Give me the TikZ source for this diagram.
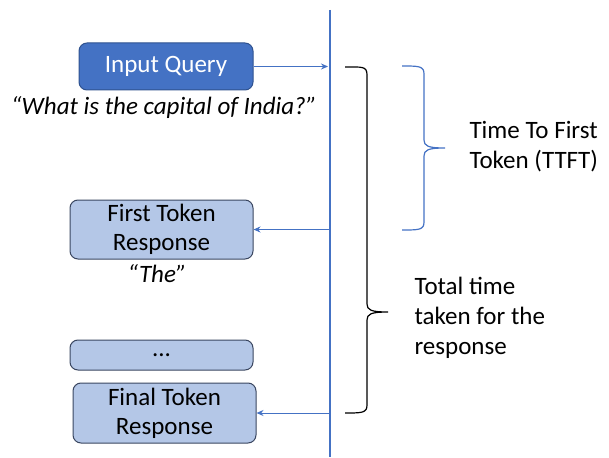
\documentclass[tikz,border=0pt]{standalone}
\usepackage{fontspec}
\setmainfont{Carlito}
\usetikzlibrary{arrows.meta}
\definecolor{qblue}{HTML}{4472C4}
\definecolor{qdark}{HTML}{2F528F}
\definecolor{rfill}{HTML}{B4C7E7}
\definecolor{rdraw}{HTML}{3A4660}
\tikzset{
    box/.style={draw=rdraw, fill=rfill, rounded corners=8pt, line width=1pt,
        align=center, inner sep=0pt, font=\fontsize{25}{29}\selectfont},
    flow/.style={qblue, line width=1pt, -{Stealth[length=7pt,width=6pt]}},
    say/.style={font=\fontsize{25}{30}\selectfont\itshape},
    note/.style={anchor=west, align=left, font=\fontsize{25}{30}\selectfont},
}
\begin{document}
\begin{tikzpicture}[x=1pt,y=-1pt]
    \useasboundingbox (0,0) rectangle (609,457);
    % time axis
    \coordinate (top) at (330,10);
    \coordinate (bot) at (330,457);
    \draw[qblue, line width=1.2pt] (top) -- (bot);
    \node[box, fill=qblue, draw=qdark, text=white, minimum width=174pt, minimum height=47pt] (query) at (166,66.5) {Input Query};
    \node[say] (quest) at (164,108) {“What is the capital of India?”};
    \node[box, minimum width=183pt, minimum height=59pt] (first) at (161.5,229.5) {First Token\\Response};
    \node[say] (the) at (157,274) {“The”};
    \node[box, minimum width=183pt, minimum height=30pt] (dots) at (161.5,355) {...};
    \node[box, minimum width=183pt, minimum height=60pt] (final) at (164.5,413) {Final Token\\Response};
    \coordinate (t0) at (query.east -| top);
    \coordinate (t1) at (first.east -| top);
    \coordinate (t2) at (final.east -| top);
    \draw[flow] (query) -- ([xshift=-2pt]t0);
    \draw[flow] (t1) -- (first);
    \draw[flow] (t2) -- (final);
    % braces
    \draw[line width=1.2pt] (345,67) .. controls (362,67) and (367,66) .. (367,75) -- (367,304)
        .. controls (367,310) and (371,312) .. (388,312)
        .. controls (371,312) and (367,314) .. (367,320) -- (367,405)
        .. controls (367,413) and (362,413) .. (345,413);
    \draw[qblue, line width=1.2pt] (402,66) .. controls (419,66) and (424,66) .. (424,74) -- (424,140)
        .. controls (424,146) and (428,148) .. (445,148)
        .. controls (428,148) and (424,150) .. (424,156) -- (424,222)
        .. controls (424,230) and (419,230) .. (402,230);
    \node[note] (ttft) at (466,147) {Time To First\\Token (TTFT)};
    \node[note] (total) at (411,318) {Total time\\taken for the\\response};
\end{tikzpicture}
\end{document}
